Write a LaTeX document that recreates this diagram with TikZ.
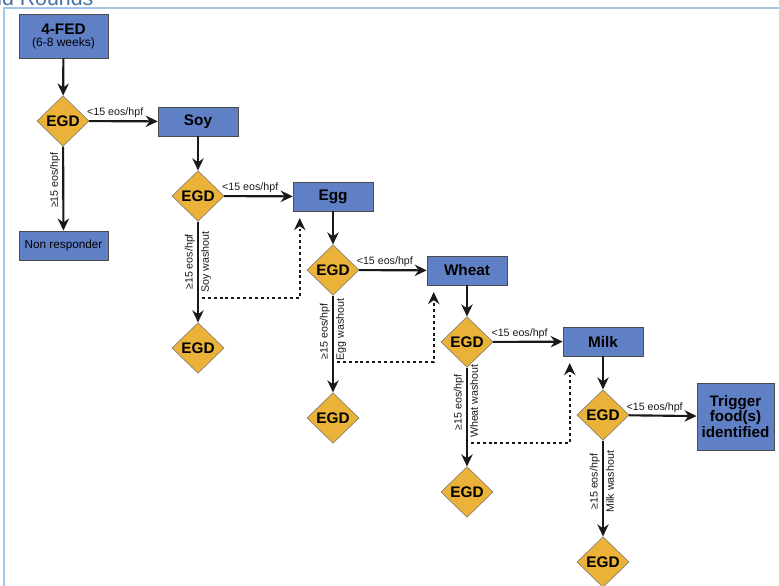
\documentclass[tikz,border=0pt]{standalone}
\usepackage{fontspec}
\setmainfont{Liberation Sans}
\usetikzlibrary{arrows,arrows.meta,shapes,positioning}
\definecolor{boxblue}{RGB}{96,128,198}
\definecolor{egdgold}{RGB}{234,178,56}
\definecolor{framebl}{RGB}{165,200,228}
\definecolor{titlebl}{RGB}{70,112,165}
\tikzstyle{every picture}+=[>={Stealth[length=9pt,width=8.5pt]}]
\tikzstyle{food}=[rectangle,draw=black!70,fill=boxblue,minimum width=60pt,minimum height=22pt,inner sep=1pt,font=\bfseries\fontsize{11.5}{12}\selectfont]
\tikzstyle{egd}=[diamond,draw=black!55,fill=egdgold,minimum width=39pt,minimum height=38pt,inner sep=0pt,font=\bfseries\fontsize{11.5}{12}\selectfont]
\tikzstyle{flow}=[->,line width=1.6pt,black!90]
\tikzstyle{wash}=[->,line width=1.8pt,black!90,dash pattern=on 2.2pt off 2.2pt,shorten >=5pt]
\tikzstyle{lbl}=[font=\fontsize{8}{9}\selectfont,inner sep=1.5pt]

\begin{document}
\begin{tikzpicture}[x=0.75pt,y=-0.75pt]
\useasboundingbox (0,0) rectangle (779,586);
% frame of the slide
\begin{scope}
\clip (0,0) rectangle (779,7);
\node[anchor=base west,text=titlebl,font=\fontsize{16}{16}\selectfont,inner sep=0pt] (title) at (-3,5) {id Rounds};
\end{scope}
\draw[framebl,line width=0.8pt] (4,586) -- (4,8) -- (779,8);

\node[food,minimum width=67pt,minimum height=33pt,align=center] (fed) at (63.5,36)
  {4-FED\\[-3pt]{\mdseries\fontsize{9}{10}\selectfont (6-8 weeks)}};
\node[egd] (egd1) at (63,121) {EGD};
\node[food] (soy) at (198,121.5) {Soy};
\node[food,minimum width=67pt,font=\mdseries\fontsize{8.8}{9}\selectfont] (nonresp) at (63.5,245.5) {Non responder};
\node[egd] (egd2) at (198,196) {EGD};
\node[food] (egg) at (333,196.5) {Egg};
\node[egd] (egd3) at (198,348) {EGD};
\node[egd] (egd4) at (333,270) {EGD};
\node[food] (wheat) at (467,270.5) {Wheat};
\node[egd] (egd5) at (333,418) {EGD};
\node[egd] (egd6) at (467,342) {EGD};
\node[food] (milk) at (603,341.5) {Milk};
\node[egd] (egd7) at (467,492) {EGD};
\node[egd] (egd8) at (603,415) {EGD};
\node[food,minimum width=58pt,minimum height=50pt,align=center,font=\bfseries\fontsize{11.4}{11.6}\selectfont] (trigger) at (735.5,416.5)
  {Trigger\\food(s)\\identified};
\node[egd] (egd9) at (603,562) {EGD};

% washout returns
\coordinate (sw1) at (202,298);
\coordinate (sw2) at (337,362);
\coordinate (sw3) at (471,443);

\path[flow] (fed) edge (egd1)
  (egd1) edge node[lbl,above,pos=0.38] {<15 eos/hpf} (soy)
  (egd1) edge node[lbl,rotate=90,anchor=south,pos=0.4] {≥15 eos/hpf} (nonresp)
  (soy) edge (egd2)
  (egd2) edge node[lbl,above,pos=0.38] {<15 eos/hpf} (egg)
  (egd2) edge node[lbl,rotate=90,anchor=south,pos=0.4] {≥15 eos/hpf}
              node[lbl,rotate=90,anchor=north,pos=0.4] {Soy washout} (egd3)
  (egg) edge (egd4)
  (egd4) edge node[lbl,above,pos=0.38] {<15 eos/hpf} (wheat)
  (egd4) edge node[lbl,rotate=90,anchor=south,pos=0.37] {≥15 eos/hpf}
              node[lbl,rotate=90,anchor=north,pos=0.35] {Egg washout} (egd5)
  (wheat) edge (egd6)
  (egd6) edge node[lbl,above,pos=0.38] {<15 eos/hpf} (milk)
  (egd6) edge node[lbl,rotate=90,anchor=south,pos=0.35] {≥15 eos/hpf}
              node[lbl,rotate=90,anchor=north,pos=0.34] {Wheat washout} (egd7)
  (milk) edge (egd8)
  (egd8) edge node[lbl,above,pos=0.38] {<15 eos/hpf} (trigger)
  (egd8) edge node[lbl,rotate=90,anchor=south,pos=0.43] {≥15 eos/hpf}
              node[lbl,rotate=90,anchor=north,pos=0.43] {Milk washout} (egd9);

\draw[wash] (sw1) -| ([xshift=5.25pt]egg.south west);
\draw[wash] (sw2) -| ([xshift=5.25pt]wheat.south west);
\draw[wash] (sw3) -| ([xshift=5.25pt]milk.south west);
\end{tikzpicture}
\end{document}
